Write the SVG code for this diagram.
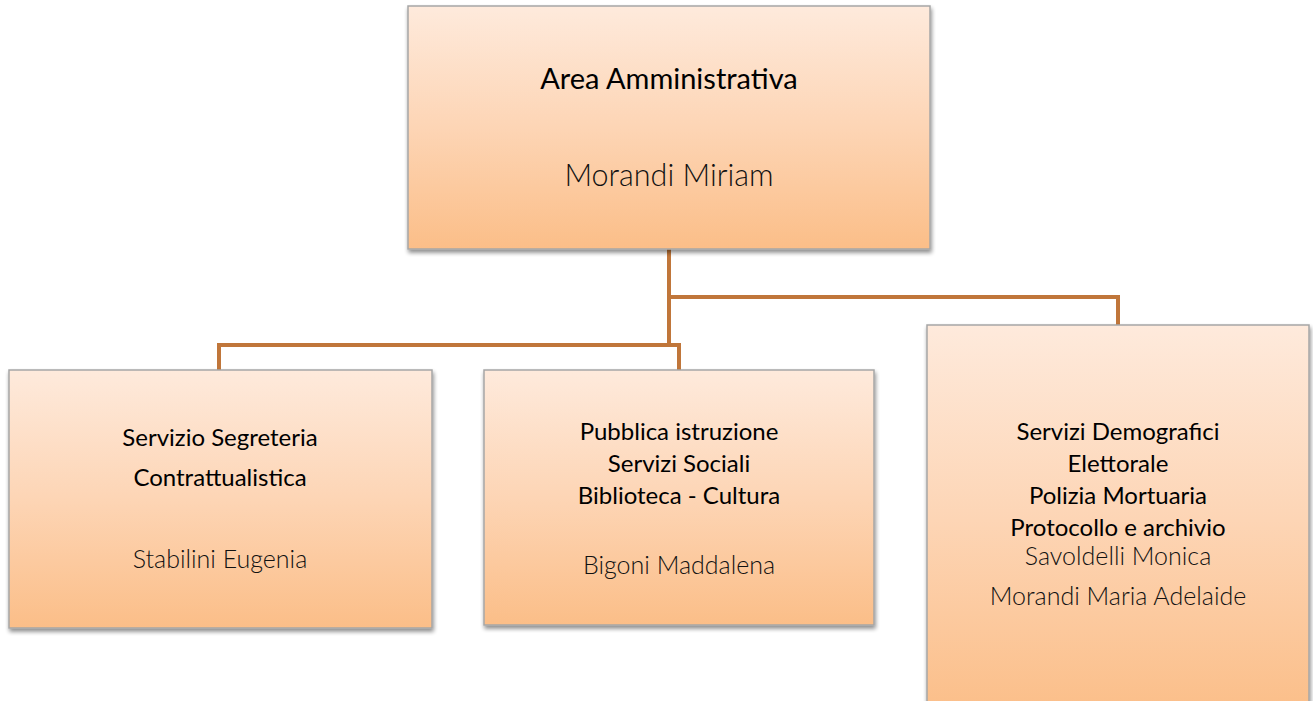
<svg xmlns="http://www.w3.org/2000/svg" width="1313" height="701" viewBox="0 0 1313 701">
<defs>
<linearGradient id="g" x1="0" y1="0" x2="0" y2="1">
<stop offset="0" stop-color="#FEEADC"/>
<stop offset="0.5" stop-color="#FDD5B5"/>
<stop offset="1" stop-color="#FBBE88"/>
</linearGradient>
<filter id="sh" x="-5%" y="-5%" width="110%" height="115%">
<feGaussianBlur in="SourceAlpha" stdDeviation="2"/>
<feOffset dx="1" dy="3"/>
<feComponentTransfer><feFuncA type="linear" slope="0.45"/></feComponentTransfer>
<feMerge><feMergeNode/><feMergeNode in="SourceGraphic"/></feMerge>
</filter>
</defs>
<style>
.box{fill:url(#g);stroke:#A6A6A6;stroke-width:1.5;filter:url(#sh)}
.t{font-family:Lato,"Open Sans","Liberation Sans",sans-serif;fill:#000;text-anchor:middle;font-size:24px}
.n{font-family:Lato,"Open Sans","Liberation Sans",sans-serif;fill:#111;text-anchor:middle;font-size:25px;font-weight:300}
.big{font-size:29px}
.bign{font-size:30.5px}
.c{fill:none;stroke:#C0763A;stroke-width:4}
</style>
<rect width="1313" height="701" fill="#fff"/>
<g id="connectors">
<path class="c" d="M669 249 V345"/>
<path class="c" d="M669 297 H1118 V325"/>
<path class="c" d="M219 370 V345 H679 V370"/>
</g>
<g id="node-area">
<rect class="box" x="408" y="6" width="522" height="243"/>
<text class="t big" x="669" y="89">Area Amministrativa</text>
<text class="n bign" x="669" y="186">Morandi Miriam</text>
</g>
<g id="node-segreteria">
<rect class="box" x="9" y="370" width="423" height="258"/>
<text class="t" x="220" y="446">Servizio Segreteria</text>
<text class="t" x="220" y="486">Contrattualistica</text>
<text class="n" x="220" y="568">Stabilini Eugenia</text>
</g>
<g id="node-istruzione">
<rect class="box" x="484" y="370" width="390" height="255"/>
<text class="t" x="679" y="440">Pubblica istruzione</text>
<text class="t" x="679" y="472">Servizi Sociali</text>
<text class="t" x="679" y="504">Biblioteca - Cultura</text>
<text class="n" x="679" y="574">Bigoni Maddalena</text>
</g>
<g id="node-demografici">
<rect class="box" x="927" y="325" width="382" height="390"/>
<text class="t" x="1118" y="440">Servizi Demografici</text>
<text class="t" x="1118" y="472">Elettorale</text>
<text class="t" x="1118" y="504">Polizia Mortuaria</text>
<text class="t" x="1118" y="536">Protocollo e archivio</text>
<text class="n" x="1118" y="565">Savoldelli Monica</text>
<text class="n" x="1118" y="605">Morandi Maria Adelaide</text>
</g>
</svg>
